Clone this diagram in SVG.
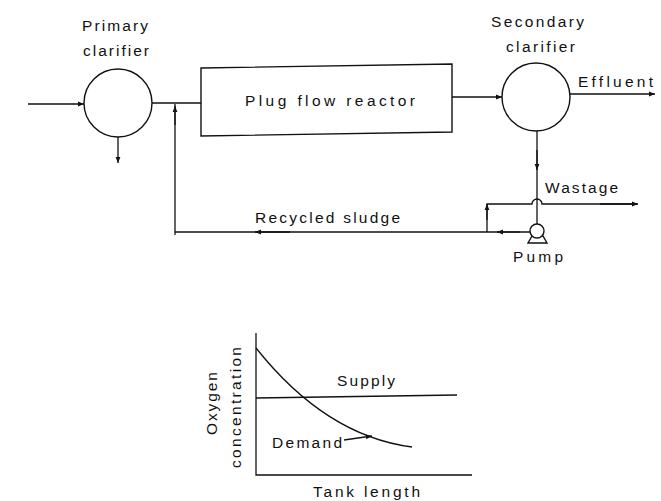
<svg xmlns="http://www.w3.org/2000/svg" width="661" height="501" viewBox="0 0 661 501">
<defs>
<style>
.ln{fill:none;stroke:#111;stroke-width:1.3}
.sh{fill:#fff;stroke:#111;stroke-width:1.4}
text{font-family:"Liberation Sans",Arial,sans-serif;font-size:15.5px;fill:#111}
</style>
<marker id="ah" viewBox="0 0 10 10" refX="10" refY="5" markerWidth="9" markerHeight="6" orient="auto" markerUnits="userSpaceOnUse">
<path d="M0,1 L10,5 L0,9 Z" fill="#111"/>
</marker>
</defs>
<rect width="661" height="501" fill="#fff"/>
<g id="connectors">
<line class="ln" x1="28" y1="104" x2="84" y2="104" marker-end="url(#ah)"/>
<line class="ln" x1="118" y1="137" x2="118" y2="163" marker-end="url(#ah)"/>
<line class="ln" x1="152" y1="103" x2="201" y2="103"/>
<path class="ln" d="M175,235 V104"/>
<line class="ln" x1="175" y1="125" x2="175" y2="106" marker-end="url(#ah)"/>
<line class="ln" x1="452" y1="97" x2="502" y2="97" marker-end="url(#ah)"/>
<line class="ln" x1="570" y1="94" x2="655" y2="94" marker-end="url(#ah)"/>
<line class="ln" x1="537" y1="131" x2="537" y2="224"/>
<line class="ln" x1="537" y1="150" x2="537" y2="170" marker-end="url(#ah)"/>
<path class="ln" d="M530,232 H175"/>
<line class="ln" x1="520" y1="232" x2="497" y2="232" marker-end="url(#ah)"/>
<line class="ln" x1="290" y1="232" x2="255" y2="232" marker-end="url(#ah)"/>
<path class="ln" d="M487,232 V204 H532 A5,5 0 0 1 542,204 H637"/>
<line class="ln" x1="487" y1="220" x2="487" y2="204" marker-end="url(#ah)"/>
<line class="ln" x1="600" y1="204" x2="638" y2="204" marker-end="url(#ah)"/>
</g>
<g id="primary-clarifier">
<circle class="sh" cx="118" cy="103" r="34"/>
<text x="82" y="31" textLength="66" lengthAdjust="spacing">Primary</text>
<text x="83" y="56" textLength="66" lengthAdjust="spacing">clarifier</text>
</g>
<g id="plug-flow-reactor">
<polygon class="sh" points="201,68 452,64 452,132 201,136"/>
<text x="245" y="106" textLength="170" lengthAdjust="spacing">Plug flow reactor</text>
</g>
<g id="secondary-clarifier">
<circle class="sh" cx="536" cy="97" r="34"/>
<text x="491" y="27" textLength="93" lengthAdjust="spacing">Secondary</text>
<text x="506" y="52" textLength="69" lengthAdjust="spacing">clarifier</text>
</g>
<g id="effluent"><text x="578" y="87" textLength="75" lengthAdjust="spacing">Effluent</text></g>
<g id="wastage"><text x="545" y="193" textLength="73" lengthAdjust="spacing">Wastage</text></g>
<g id="recycled-sludge"><text x="255" y="223" textLength="145" lengthAdjust="spacing">Recycled sludge</text></g>
<g id="pump">
<path class="sh" d="M532,236 L528,243 H547 L543,236 Z"/>
<circle class="sh" cx="537" cy="231" r="7"/>
<text x="513" y="262" textLength="50" lengthAdjust="spacing">Pump</text>
</g>
<g id="graph">
<path class="ln" d="M256,333 V475 H472"/>
<path class="ln" d="M256,398 L457,395"/>
<path class="ln" d="M256,348 Q326,436 412,447"/>
<line class="ln" x1="344" y1="440" x2="372" y2="436" marker-end="url(#ah)"/>
<text x="337" y="386" textLength="58" lengthAdjust="spacing">Supply</text>
<text x="272" y="448" textLength="70" lengthAdjust="spacing">Demand</text>
<text x="313" y="497" textLength="107" lengthAdjust="spacing">Tank length</text>
<text transform="translate(217,435) rotate(-90)" textLength="63" lengthAdjust="spacing">Oxygen</text>
<text transform="translate(241,468) rotate(-90)" textLength="121" lengthAdjust="spacing">concentration</text>
</g>
</svg>
